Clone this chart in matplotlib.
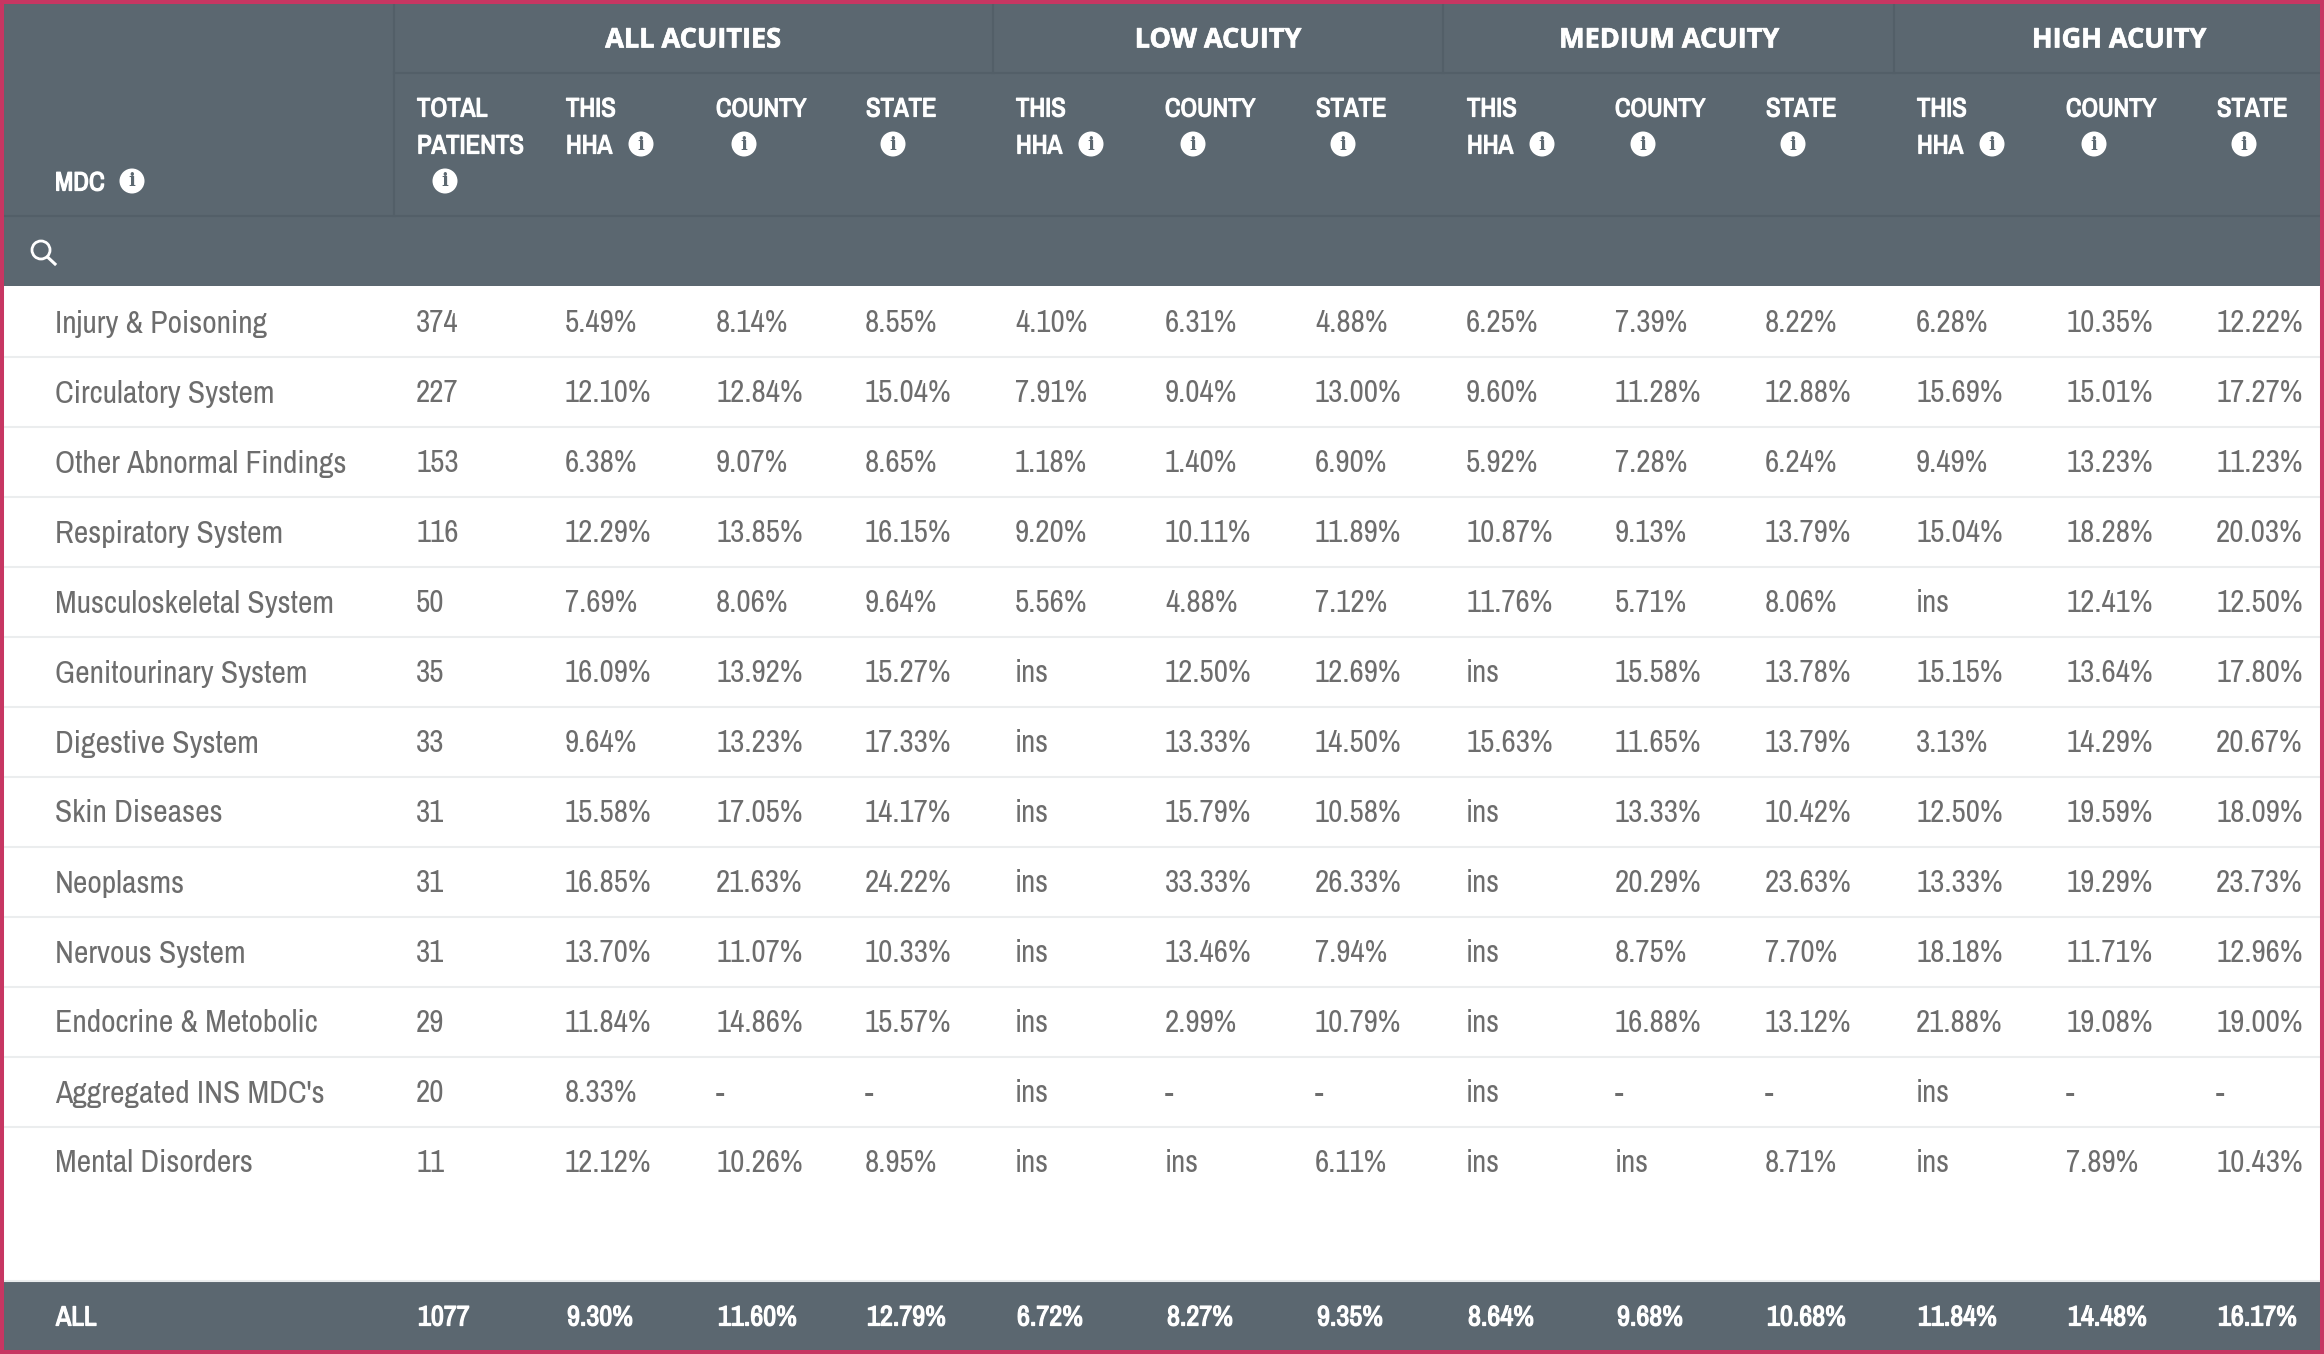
import matplotlib
matplotlib.use('Agg')
import matplotlib.pyplot as plt
import matplotlib.patheffects as pe
from matplotlib.patches import Rectangle, Circle
from matplotlib import font_manager as fm

names = sorted(set(f.name for f in fm.fontManager.ttflist))
narrow = [n for n in names if 'Narrow' in n or 'Condensed' in n]
BODY = narrow[0] if narrow else 'Roboto'

mdc = ['Injury & Poisoning', 'Circulatory System', 'Other Abnormal Findings', 'Respiratory System',
       'Musculoskeletal System', 'Genitourinary System', 'Digestive System', 'Skin Diseases', 'Neoplasms',
       'Nervous System', 'Endocrine & Metobolic', "Aggregated INS MDC's", 'Mental Disorders']
patients = ['374', '227', '153', '116', '50', '35', '33', '31', '31', '31', '29', '20', '11']

all_acuities = [
    ['5.49%', '8.14%', '8.55%'], ['12.10%', '12.84%', '15.04%'], ['6.38%', '9.07%', '8.65%'],
    ['12.29%', '13.85%', '16.15%'], ['7.69%', '8.06%', '9.64%'], ['16.09%', '13.92%', '15.27%'],
    ['9.64%', '13.23%', '17.33%'], ['15.58%', '17.05%', '14.17%'], ['16.85%', '21.63%', '24.22%'],
    ['13.70%', '11.07%', '10.33%'], ['11.84%', '14.86%', '15.57%'], ['8.33%', '-', '-'],
    ['12.12%', '10.26%', '8.95%']]
low_acuity = [
    ['4.10%', '6.31%', '4.88%'], ['7.91%', '9.04%', '13.00%'], ['1.18%', '1.40%', '6.90%'],
    ['9.20%', '10.11%', '11.89%'], ['5.56%', '4.88%', '7.12%'], ['ins', '12.50%', '12.69%'],
    ['ins', '13.33%', '14.50%'], ['ins', '15.79%', '10.58%'], ['ins', '33.33%', '26.33%'],
    ['ins', '13.46%', '7.94%'], ['ins', '2.99%', '10.79%'], ['ins', '-', '-'],
    ['ins', 'ins', '6.11%']]
medium_acuity = [
    ['6.25%', '7.39%', '8.22%'], ['9.60%', '11.28%', '12.88%'], ['5.92%', '7.28%', '6.24%'],
    ['10.87%', '9.13%', '13.79%'], ['11.76%', '5.71%', '8.06%'], ['ins', '15.58%', '13.78%'],
    ['15.63%', '11.65%', '13.79%'], ['ins', '13.33%', '10.42%'], ['ins', '20.29%', '23.63%'],
    ['ins', '8.75%', '7.70%'], ['ins', '16.88%', '13.12%'], ['ins', '-', '-'],
    ['ins', 'ins', '8.71%']]
high_acuity = [
    ['6.28%', '10.35%', '12.22%'], ['15.69%', '15.01%', '17.27%'], ['9.49%', '13.23%', '11.23%'],
    ['15.04%', '18.28%', '20.03%'], ['ins', '12.41%', '12.50%'], ['15.15%', '13.64%', '17.80%'],
    ['3.13%', '14.29%', '20.67%'], ['12.50%', '19.59%', '18.09%'], ['13.33%', '19.29%', '23.73%'],
    ['18.18%', '11.71%', '12.96%'], ['21.88%', '19.08%', '19.00%'], ['ins', '-', '-'],
    ['ins', '7.89%', '10.43%']]
totals = ['1077', '9.30%', '11.60%', '12.79%', '6.72%', '8.27%', '9.35%', '8.64%', '9.68%', '10.68%',
          '11.84%', '14.48%', '16.17%']
groups = ['ALL ACUITIES', 'LOW ACUITY', 'MEDIUM ACUITY', 'HIGH ACUITY']

W, H = 2324, 1354
BG = '#5b6770'
LINE = '#535f68'
BORDER = '#c73662'
GREY = '#6d6d6d'
SEP = '#ebedee'

col_x = [416, 565, 716, 865, 1015, 1165, 1315, 1466, 1615, 1765, 1916, 2066, 2216]
group_x = [693, 1218, 1669, 2119]
sep_x = [394, 993, 1443, 1894]
row_top = 286
row_h = 70

# the narrow family has no bold face here, so thicken it with a stroke
THICK = [pe.withStroke(linewidth=0.9, foreground='white')]
THIN = [pe.withStroke(linewidth=0.5, foreground='white')]


def info(ax, x, y):
    ax.add_patch(Circle((x, y), 12.5, fc='white', ec='none', zorder=3))
    ax.text(x, y + 0.5, 'i', color=BG, fontsize=13, fontweight='bold', family='DejaVu Serif',
            ha='center', va='center', zorder=4)


def head(ax, x, y, s, size=19.2):
    ax.text(x, y, s, color='white', fontsize=size, family=BODY, ha='left', va='center', path_effects=THICK)


def main():
    fig = plt.figure(figsize=(W / 100, H / 100), dpi=100, facecolor='white')
    ax = fig.add_axes([0, 0, 1, 1])
    ax.set_xlim(0, W)
    ax.set_ylim(H, 0)
    ax.axis('off')

    # header and footer bands
    ax.add_patch(Rectangle((0, 0), W, row_top, fc=BG, ec='none'))
    ax.add_patch(Rectangle((0, 1282), W, H - 1282, fc=BG, ec='none'))
    ax.plot([394, W], [73, 73], color=LINE, lw=1.5)
    ax.plot([0, W], [216, 216], color=LINE, lw=1.5)
    for i, x in enumerate(sep_x):
        ax.plot([x, x], [0, 216 if i == 0 else 73], color=LINE, lw=1.5)

    for x, s in zip(group_x, groups):
        ax.text(x, 40.5, s, color='white', fontsize=19.5, fontweight='bold', family='Open Sans',
                ha='center', va='center', path_effects=THIN)

    # column headers
    head(ax, 55, 183, 'MDC')
    info(ax, 132, 181)
    head(ax, col_x[0] + 1, 109, 'TOTAL')
    head(ax, col_x[0] + 1, 146, 'PATIENTS')
    info(ax, 445, 181)
    for g in range(4):
        x0 = col_x[1 + g * 3]
        x1 = col_x[2 + g * 3]
        x2 = col_x[3 + g * 3]
        head(ax, x0 + 1, 109, 'THIS')
        head(ax, x0 + 1, 146, 'HHA')
        info(ax, x0 + 76, 144)
        head(ax, x1, 109, 'COUNTY', 18.8)
        info(ax, x1 + 28, 144)
        head(ax, x2 + 1, 109, 'STATE')
        info(ax, x2 + 28, 144)

    # search icon
    ax.add_patch(Circle((41, 250), 9, fc='none', ec='white', lw=2))
    ax.plot([47.5, 55], [257, 264], color='white', lw=2.2)

    # body rows
    for i, name in enumerate(mdc):
        y = row_top + row_h * i + 37.5
        ax.text(55, y, name, color=GREY, fontsize=22.8, family=BODY, ha='left', va='center')
        cells = [patients[i]] + all_acuities[i] + low_acuity[i] + medium_acuity[i] + high_acuity[i]
        for x, s in zip(col_x, cells):
            ax.text(x, y, s, color=GREY, fontsize=22.4, family=BODY, ha='left', va='center')
        if i < len(mdc) - 1:
            ax.plot([4, W - 4], [row_top + row_h * (i + 1) + 1] * 2, color=SEP, lw=1.5)
    ax.plot([4, W - 4], [1281, 1281], color=SEP, lw=1.5)

    # footer row
    head(ax, 56, 1318, 'ALL', 20)
    for x, s in zip(col_x, totals):
        head(ax, x + 2, 1318, s, 20.4)

    # pink frame
    ax.add_patch(Rectangle((2, 2), W - 4, H - 4, fc='none', ec=BORDER, lw=2.9, zorder=5))

    fig.savefig('out.png', dpi=100, facecolor='white')


if __name__ == "__main__":
    main()
